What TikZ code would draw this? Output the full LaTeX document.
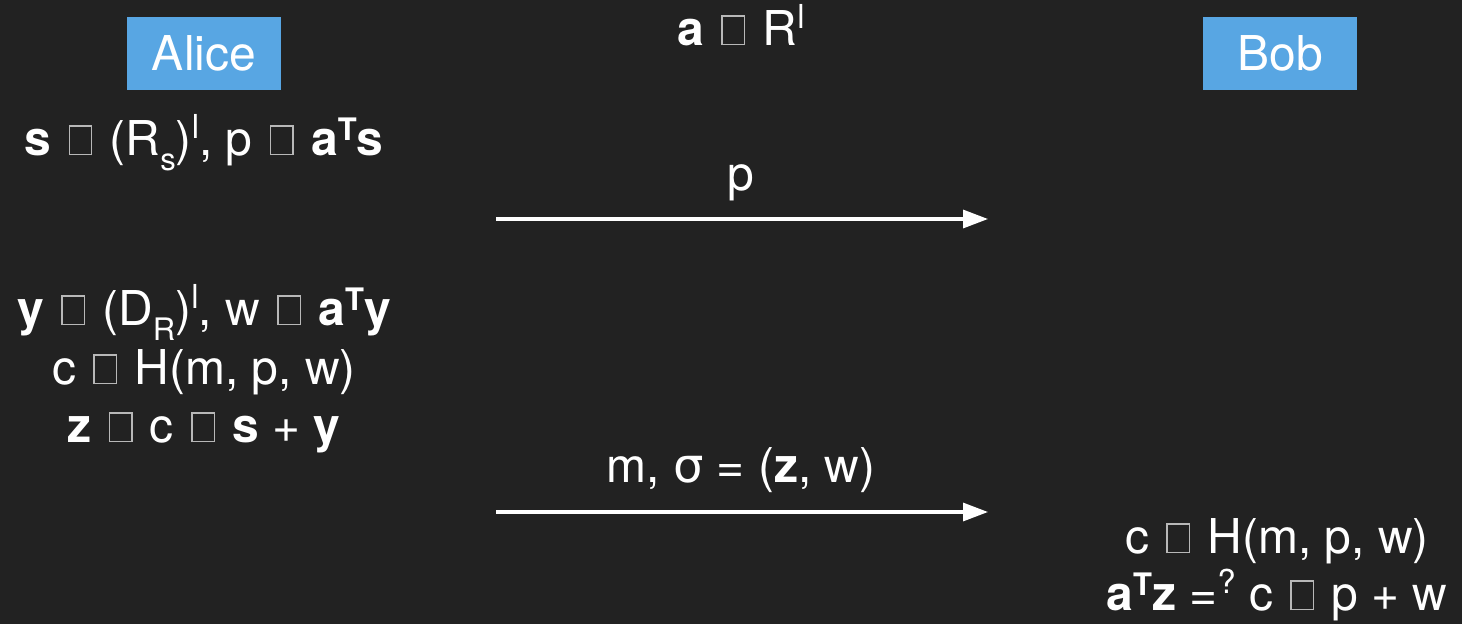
\documentclass[tikz,border=0pt]{standalone}
\usepackage{fontspec}
\setmainfont{TeX Gyre Heros}
\newfontfamily\greekfont{DejaVu Sans}
\usetikzlibrary{arrows.meta}
\definecolor{bg}{HTML}{222222}
\definecolor{boxblue}{HTML}{58A6E3}
\definecolor{glyphgray}{HTML}{B8B8B8}
\newcommand{\glyphbox}{\kern4pt\textcolor{glyphgray}{\hbox{\vrule width1.4pt\vbox{\hrule width21pt height1.4pt\vskip27pt\hrule height1.4pt}\vrule width1.4pt}}\kern4pt}
\newcommand{\gb}{\ \glyphbox\ }
\newcommand{\up}[1]{\raisebox{17pt}{\fontsize{33}{33}\selectfont #1}}
\newcommand{\dn}[1]{\raisebox{-15pt}{\fontsize{31}{31}\selectfont #1}}
\newcommand{\upT}{\raisebox{15pt}{\fontsize{31}{31}\selectfont\bfseries T}}
\tikzset{
  txt/.style={inner sep=0pt, anchor=base, text=white, font=\fontsize{48}{58}\selectfont},
  who/.style={fill=boxblue, text=white, inner sep=0pt, minimum width=154pt, minimum height=73pt, font=\fontsize{48}{58}\selectfont},
  msg/.style={draw=white, line width=3.2pt, -{Triangle[length=25pt,width=18pt]}}
}
\begin{document}
\begin{tikzpicture}[x=1pt,y=-1pt]
\fill[bg] (0,0) rectangle (1462,624);
\useasboundingbox (0,0) rectangle (1462,624);
\node[who] (alice) at (204,53.5) {Alice};
\node[who] (bob) at (1280,53.5) {Bob};
\node[txt] (pub) at (741,45) {\textbf{a}\gb R\up{l}};
\node[txt] (keygen) at (204,155) {\textbf{s}\gb(R\dn{s})\up{l}, p\gb\textbf{a}\upT\textbf{s}};
\node[txt] (plabel) at (741,190) {p};
\node[txt] (a1) at (204,325) {\textbf{y}\gb(D\dn{R})\up{l}, w\gb\textbf{a}\upT\textbf{y}};
\node[txt] (a2) at (204,384) {c\gb H(m, p, w)};
\node[txt] (a3) at (204,442) {\textbf{z}\gb c\gb\textbf{s} + \textbf{y}};
\node[txt] (siglabel) at (741,482) {m, {\greekfont σ} = (\textbf{z}, w)};
\node[txt] (b1) at (1277,553) {c\gb H(m, p, w)};
\node[txt] (b2) at (1277,610) {\textbf{a}\upT\textbf{z} =\up{?} c\gb p + w};
\coordinate (m1s) at (496,219);
\coordinate (m1e) at (988,219);
\coordinate (m2s) at (496,512);
\coordinate (m2e) at (988,512);
\draw[msg] (m1s) -- (m1e);
\draw[msg] (m2s) -- (m2e);
\end{tikzpicture}
\end{document}
